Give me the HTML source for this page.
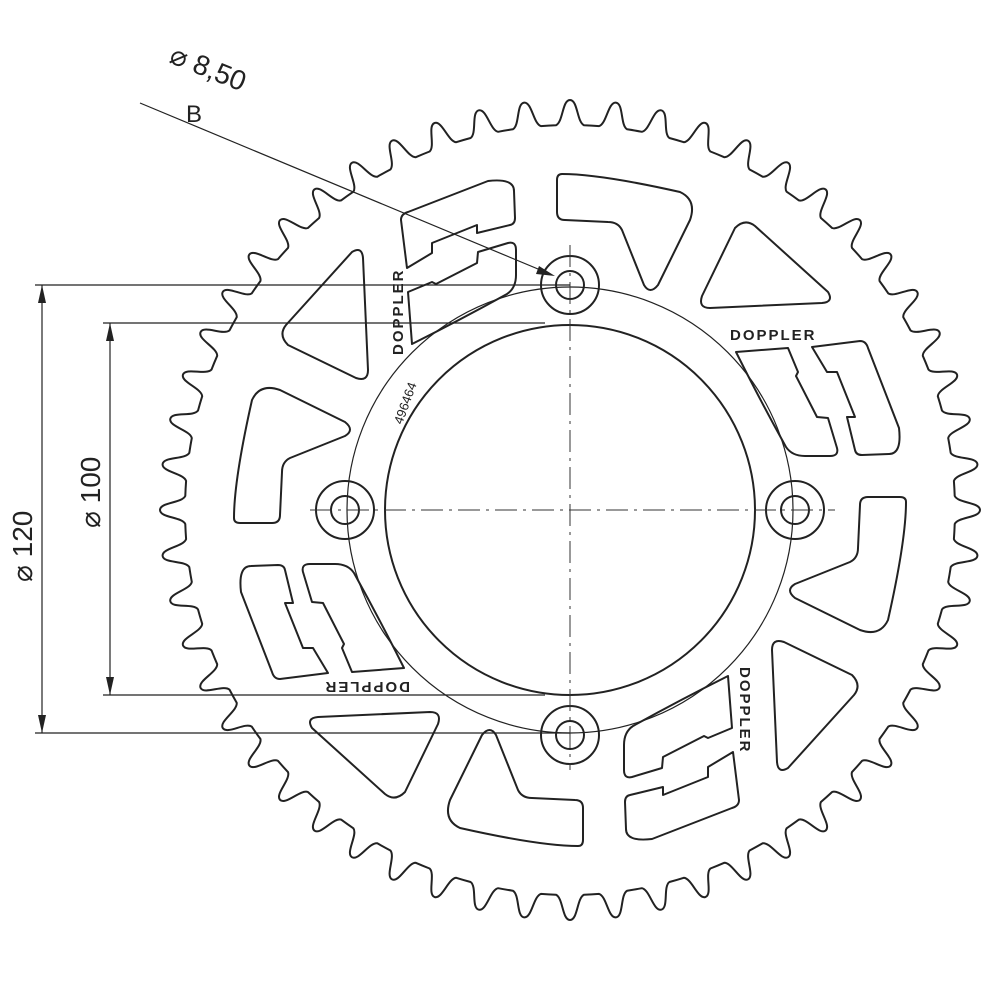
<!DOCTYPE html>
<html><head><meta charset="utf-8"><style>
html,body{margin:0;padding:0;background:#fff;width:1000px;height:1000px;overflow:hidden}
svg{display:block}
text{font-family:"Liberation Sans",sans-serif;fill:#222}
</style></head><body>
<svg id="s" width="1000" height="1000" viewBox="0 0 1000 1000" xmlns="http://www.w3.org/2000/svg">
<g fill="none" stroke="#222" stroke-width="2" stroke-linejoin="round" stroke-linecap="round">
<path id="teeth" d=""/>
<circle cx="570" cy="510" r="185"/>
<circle cx="570" cy="510" r="223" stroke-width="1.2"/>
<g id="q">
<path d="M562,174 Q600,174 680,192 Q697,200 690,220 L658,285 Q650,295 644,285 L622,230 Q618,222 608,222 L565,220 Q557,220 557,212 L557,180 Q557,174 562,174 Z"/>
<path d="M735,228 Q745,218 755,226 L828,292 Q834,302 822,303 L710,308 Q698,308 702,296 Z"/>
<path d="M736,352 L788,348 L798,372 L796,376 L817,417 L828,418 L837,448 Q839,456 830,456 L805,456 Q792,456 786,447 Q760,400 736,352 Z"/>
<path d="M812,347 L860,341 Q866,341 868,348 L899,428 Q902,454 889,454 L862,455 Q856,455 855,450 L847,417 L855,417 L837,372 L827,372 Z"/>
<circle cx="570" cy="285" r="29"/>
<circle cx="570" cy="285" r="14"/>
</g>
<use href="#q" transform="rotate(90 570 510)"/>
<use href="#q" transform="rotate(180 570 510)"/>
<use href="#q" transform="rotate(270 570 510)"/>
</g>
<g stroke="#333" stroke-width="1" fill="none" stroke-dasharray="22,6,3,6">
<line x1="570" y1="245" x2="570" y2="770"/>
<line x1="310" y1="510" x2="835" y2="510"/>
</g>
<g stroke="#222" stroke-width="1.2" fill="none">
<line x1="35" y1="285" x2="570" y2="285"/>
<line x1="35" y1="733" x2="570" y2="733"/>
<line x1="103" y1="323" x2="545" y2="323"/>
<line x1="103" y1="695" x2="545" y2="695"/>
<line x1="42" y1="285" x2="42" y2="733"/>
<line x1="110" y1="323" x2="110" y2="695"/>
<line x1="140" y1="103" x2="550" y2="274"/>
</g>
<g fill="#222">
<polygon points="42,285 38,303 46,303"/><polygon points="42,733 38,715 46,715"/>
<polygon points="110,323 106,341 114,341"/><polygon points="110,695 106,677 114,677"/>
<polygon points="555,276 536,274 539,266"/>
</g>
<text x="0" y="0" font-size="28" transform="translate(32,582) rotate(-90)">⌀ 120</text>
<text x="0" y="0" font-size="28" transform="translate(100,528) rotate(-90)">⌀ 100</text>
<text x="0" y="0" font-size="28" transform="translate(168,62) rotate(22)">⌀ 8,50</text>
<text x="186" y="122" font-size="24">B</text>
<g font-size="15" font-weight="bold" letter-spacing="2">
<text x="730" y="340">DOPPLER</text>
<text transform="translate(740,667) rotate(90)">DOPPLER</text>
<text transform="translate(410,682) rotate(180)">DOPPLER</text>
<text transform="translate(403,355) rotate(-90)">DOPPLER</text>
</g>
<text font-size="13" transform="translate(402,425) rotate(-70)">496464</text>
</svg>
<script>
var cx=570,cy=510,N=56,st=360/N,s="";
function p(a,r){a=a*Math.PI/180;return (cx+r*Math.cos(a)).toFixed(1)+","+(cy+r*Math.sin(a)).toFixed(1);}
for(var i=0;i<N;i++){var a=-90+i*st;
 s+=(i==0?"M":" A385,385 0 0 1 ")+p(a-2.1,385)+" C"+p(a-1.0,388)+" "+p(a-1.1,410)+" "+p(a,410)+" C"+p(a+1.1,410)+" "+p(a+1.0,388)+" "+p(a+2.1,385);}
s+=" A385,385 0 0 1 "+p(-90-2.1,385)+"Z";
document.getElementById("teeth").setAttribute("d",s);
</script>
</body></html>
